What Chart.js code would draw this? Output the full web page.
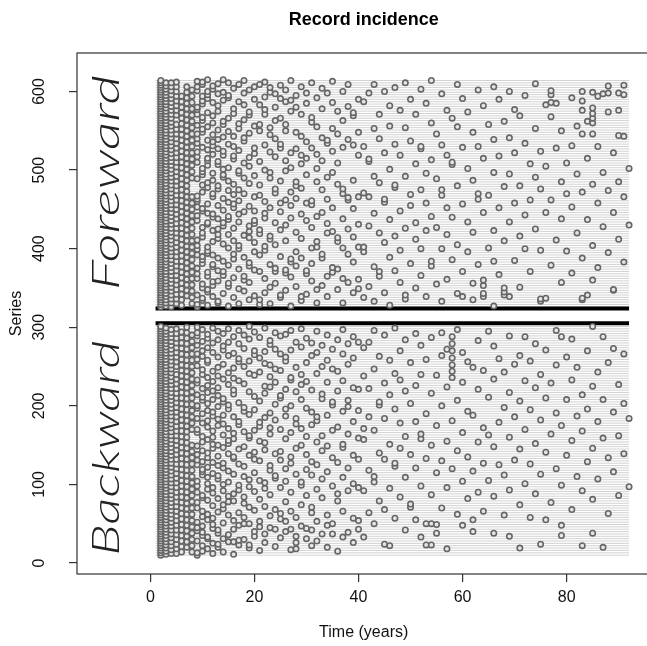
<!DOCTYPE html>
<html><head><meta charset="utf-8">
<script src="https://cdn.jsdelivr.net/npm/chart.js@4/dist/chart.umd.min.js"></script>
<style>html,body{margin:0;padding:0;overflow:hidden;background:#fff}</style>
</head><body>
<div style="width:656px;height:646px;position:relative"><canvas id="c"></canvas></div>
<script>
const chartTitle = 'Record incidence';
const xTitle = 'Time (years)';
const yTitle = 'Series';
const xTicks = [0, 20, 40, 60, 80];
const yTicks = [0, 100, 200, 300, 400, 500, 600];
const blockLabels = ['Foreward', 'Backward'];
const blockLabelPos = [[-8.4, 484], [-8.4, 146]];
const fwdRange = [326, 615];
const bwdRange = [10, 301];
const lineSpan = [1, 92];
const dividers = [305, 324];
// vertical chains of records in the first years: [year, fromSeries, toSeries, pitch between links]
const fwdRuns = [[2,326,615,3],[3,327,614,4],[4,326,612,5],[5,330,560,6],[5,570,612,6],[6,328,600,7],[7,340,612,7],[8,330,470,8],[8,490,605,8]];
const bwdRuns = [[2,10,301,3],[3,11,300,4],[4,12,300,5],[5,12,240,6],[5,250,298,6],[6,14,296,7],[7,20,300,7],[8,14,150,8],[8,170,290,8]];
// later records, year -> series with a record in that year
const fwdYears = {
 9:[326,329,341,362,368,375,392,399,404,411,436,442,453,460,463,467,489,510,517,523,534,540,546,557,571,577,580,601,606,613],
 10:[334,337,350,355,381,386,390,415,420,427,448,451,472,481,494,498,502,529,548,552,563,567,584,588,594,609,612],
 11:[328,345,348,365,370,394,397,402,431,433,445,457,478,484,506,512,515,526,538,555,573,591,596,600,615],
 12:[339,353,358,377,380,392,409,423,440,444,466,470,487,496,520,531,536,545,560,569,586,603,607],
 13:[331,333,359,372,388,413,418,425,438,455,476,480,507,511,527,539,551,575,582,597,610],
 14:[343,366,371,384,406,429,433,449,464,491,494,501,519,524,542,558,562,589,599,615],
 15:[327,352,356,379,401,418,437,441,459,474,486,503,533,549,566,592,595,611],
 16:[338,363,387,393,410,426,452,457,469,482,514,518,530,543,572,578,604],
 17:[330,349,374,400,404,434,444,461,475,496,499,525,553,559,587,609],
 18:[346,360,365,389,417,447,470,490,509,537,541,564,583,598,614],
 19:[335,357,378,382,414,422,429,454,483,505,516,547,570,574,602],
 20:[340,373,396,408,432,436,448,466,493,521,528,556,590,606],
 21:[329,335,371,392,419,424,468,481,511,550,558,583,609],
 22:[344,362,398,403,439,445,460,500,532,571,577,593,612],
 23:[330,351,380,412,416,452,490,497,523,545,554,599,605],
 24:[356,371,375,405,433,471,476,517,540,563,580,597],
 25:[338,341,390,424,447,458,486,528,533,566,591,608],
 26:[347,369,373,410,430,462,499,512,550,558,587,602],
 27:[327,364,383,387,439,455,472,503,522,575,589,614],
 28:[352,378,396,421,464,480,485,527,548,580,595],
 29:[334,339,388,413,444,477,508,519,543,571,606],
 30:[342,368,372,436,458,494,515,536,585,598],
 31:[359,381,401,427,456,461,528,561,567,611],
 32:[331,348,402,409,441,485,502,520,555,592],
 33:[353,388,393,446,475,512,541,578,604],
 34:[339,365,420,432,463,491,534,538,598],
 35:[370,376,422,452,497,524,553,586,613],
 36:[348,374,409,414,482,509,546,575],
 37:[331,362,401,438,470,476,529,563,600],
 38:[357,393,425,462,465,539,581,609],
 39:[344,383,415,451,487,532,569,573],
 40:[349,361,402,431,466,519,548,590],
 41:[338,396,402,471,530,587],
 42:[352,429,466,511,514,598],
 43:[333,377,445,492,553,609],
 44:[365,371,420,484,540,571],
 45:[344,408,459,463,522,600],
 46:[328,389,437,501,556,582],
 47:[372,416,478,481,533,605],
 48:[357,398,448,519,576],
 49:[336,341,426,492,554,611],
 50:[381,455,469,537,590],
 51:[350,412,433,508,571],
 52:[366,400,475,527,530,603],
 53:[339,423,458,496,585],
 54:[378,384,441,513,560,614],
 55:[355,427,489,546],
 56:[333,400,468,475,532,597],
 57:[361,418,452,519,576],
 58:[386,440,507,510,566],
 59:[343,405,480,555,609],
 60:[339,371,457,529,591],
 61:[396,434,502,574],
 62:[335,356,421,487,548],
 63:[380,463,470,530,602],
 64:[339,343,353,360,446,515,582],
 65:[401,468,558],
 66:[327,384,423,497,539,606],
 67:[367,452,518,590],
 68:[341,345,350,410,479,562],
 69:[339,434,495,541,600],
 70:[385,458,522,577],
 71:[351,416,480,569],
 72:[400,443,534,595],
 73:[371,462,508],
 74:[425,491,553,610],
 75:[333,336,398,476,524],
 76:[337,446,505,583],
 77:[379,462,568,586,596,601],
 78:[411,528,585],
 79:[357,438,485,550],
 80:[397,470,509],
 81:[369,453,531,592],
 82:[420,495,556],
 83:[335,337,388,472,546,576,588,600],
 84:[341,437,515,562],
 85:[360,404,482,546,560,566,572,579,599],
 86:[376,458,530,594],
 87:[428,497,597],
 88:[395,474,574,598,607],
 89:[347,348,446,522],
 90:[412,485,544,576,598],
 91:[383,466,543,596,608],
 92:[430,502]
};
const bwdYears = {
 9:[10,13,28,41,45,52,70,77,90,98,104,125,131,138,149,166,170,184,197,200,214,229,233,251,259,266,277,289,293,300],
 10:[15,22,35,39,47,59,66,83,86,112,116,119,129,143,154,161,178,190,207,211,222,240,246,263,270,282,297],
 11:[18,31,33,55,62,80,94,101,109,122,134,140,157,173,181,194,203,217,226,236,255,258,274,286,291],
 12:[12,25,44,49,57,73,89,96,114,128,146,151,160,168,187,192,208,219,231,244,268,280,299],
 13:[20,24,38,42,65,82,107,111,124,136,150,175,183,199,213,223,238,249,262,284,295],
 14:[14,31,51,69,74,92,100,121,127,147,163,177,188,205,209,234,253,271,276,292],
 15:[27,36,61,78,85,103,117,139,152,156,171,196,201,227,242,264,281,298],
 16:[11,27,43,54,79,88,113,133,135,158,165,186,215,220,235,248,267,288],
 17:[23,29,48,64,93,99,126,145,176,180,204,232,256,260,279,296],
 18:[30,50,58,76,84,110,123,148,167,193,198,228,250,273,290],
 19:[19,23,50,71,97,106,137,159,162,189,218,241,257,285,301],
 20:[34,40,67,91,115,132,141,169,195,212,239,265,270,294],
 21:[16,46,53,81,105,130,155,174,179,206,243,261,287],
 22:[26,37,72,95,102,144,153,185,216,225,254,269,299],
 23:[45,60,87,118,124,164,172,191,224,237,252,278,283],
 24:[21,43,68,108,111,139,182,202,230,247,272,293],
 25:[32,56,63,96,131,142,170,210,213,245,266,289],
 26:[40,53,78,104,120,158,187,196,221,257,262,291],
 27:[17,43,66,90,127,135,166,200,233,236,271,296],
 28:[18,26,34,58,113,146,177,184,218,249,281],
 29:[47,74,99,103,150,171,208,227,240,275,298],
 30:[31,44,86,119,138,161,197,231,255,286],
 31:[22,42,64,71,112,129,176,192,220,264,280],
 32:[28,53,94,125,154,181,186,241,268,295],
 33:[37,83,107,143,162,209,215,250,277],
 34:[20,48,61,116,149,188,230,258,290],
 35:[37,50,98,134,169,201,205,247,272],
 36:[15,79,88,128,173,219,244,284],
 37:[33,66,109,147,151,193,232,266,297],
 38:[39,92,121,164,199,207,253,279],
 39:[26,57,101,137,180,223,261,288],
 40:[43,54,96,132,159,194,221,281],
 41:[33,92,157,171,238,274],
 42:[64,118,186,222,281],
 43:[50,103,110,169,247,296],
 44:[79,140,201,205,263],
 45:[24,68,132,184,229,290],
 46:[22,95,151,214,258],
 47:[57,123,127,196,241,299],
 48:[84,146,178,233,270],
 49:[42,109,161,219,284],
 50:[71,75,138,203,255],
 51:[55,121,180,226,292],
 52:[33,98,158,164,240,277],
 53:[23,50,133,190,259],
 54:[23,50,87,150,216,287],
 55:[38,49,115,175,239],
 56:[70,130,200,264,293],
 57:[18,96,155,224,272],
 58:[120,181,236,244,252,261,270,279,288],
 59:[62,143,207,297],
 60:[48,104,166,230,268],
 61:[82,135,193,256],
 62:[40,55,117,188,249],
 63:[90,154,221,283],
 64:[66,127,172,245],
 65:[105,163,211,295],
 66:[38,85,148,234,276],
 67:[125,179,260],
 68:[61,112,198,243],
 69:[34,93,160,217,289],
 70:[131,186,253],
 71:[19,74,145,206,264],
 72:[101,170,232,288],
 73:[58,126,195,257],
 74:[88,152,223,279],
 75:[24,113,182,240],
 76:[55,141,210,271],
 77:[77,164,229],
 78:[120,191,252,296],
 79:[35,48,99,175,288],
 80:[137,208,262],
 81:[68,156,233,285],
 82:[110,187,249],
 83:[22,92,168,214],
 84:[129,196,270],
 85:[38,81,146,225,301],
 86:[107,180,243],
 87:[20,159,208,288],
 88:[63,134,255],
 89:[116,192,273],
 90:[86,162,227],
 91:[139,203,266],
 92:[97,184]
};

function expand(runs, years) {
  const out = [];
  runs.forEach(([t, a, b, p]) => { for (let s = a; s <= b; s += p) out.push({x: t, y: s}); });
  Object.keys(years).forEach(k => years[k].forEach(s => out.push({x: +k, y: s})));
  return out;
}
function rowLines(r) {
  const out = [];
  for (let s = r[0]; s <= r[1]; s += 3) {
    out.push({x: lineSpan[0], y: s}, {x: lineSpan[1], y: s}, {x: null, y: null});
  }
  return out;
}
const dividerData = [];
dividers.forEach(d => dividerData.push({x: lineSpan[0], y: d}, {x: lineSpan[1], y: d}, {x: null, y: null}));

const FONT = "'Liberation Sans', Arial, Helvetica, sans-serif";

const decor = {
  id: 'decor',
  afterDraw(chart) {
    const {ctx, chartArea: ca, scales} = chart;
    ctx.save();
    ctx.strokeStyle = '#333';
    ctx.lineWidth = 1.2;
    ctx.strokeRect(ca.left, ca.top, ca.right - ca.left, ca.bottom - ca.top);
    ctx.fillStyle = '#111';
    ctx.font = '16px ' + FONT;
    ctx.textAlign = 'center';
    ctx.textBaseline = 'middle';
    yTicks.forEach(v => {
      const y = scales.y.getPixelForValue(v);
      ctx.save(); ctx.translate(40, y); ctx.rotate(-Math.PI / 2);
      ctx.fillText(String(v), 0, 0); ctx.restore();
    });
    ctx.font = 'italic 300 38px Lato, ' + FONT;
    ctx.fillStyle = '#222';
    blockLabels.forEach((txt, i) => {
      const x = scales.x.getPixelForValue(blockLabelPos[i][0]);
      const y = scales.y.getPixelForValue(blockLabelPos[i][1]);
      const w = ctx.measureText(txt).width;
      ctx.save(); ctx.translate(x, y); ctx.rotate(-Math.PI / 2);
      ctx.scale(215 / w, 1);
      ctx.fillText(txt, 0, 0); ctx.restore();
    });
    ctx.restore();
  }
};

new Chart(document.getElementById('c'), {
  type: 'scatter',
  data: {
    datasets: [
      {type: 'line', data: rowLines(fwdRange).concat(rowLines(bwdRange)), borderColor: '#cdcdcd', borderWidth: 0.9, pointRadius: 0, spanGaps: false, order: 3},
      {type: 'line', data: dividerData, borderColor: '#000', borderWidth: 4, pointRadius: 0, spanGaps: false, order: 2},
      {data: expand(fwdRuns, fwdYears).concat(expand(bwdRuns, bwdYears)), pointRadius: 2.7, borderWidth: 1.6, borderColor: '#666', backgroundColor: '#e6e6e6', order: 1}
    ]
  },
  options: {
    responsive: true, maintainAspectRatio: false, animation: false,
    layout: {padding: {left: 0, right: 5, top: 0, bottom: 0}},
    plugins: {
      legend: {display: false}, tooltip: {enabled: false},
      title: {display: true, text: chartTitle, fullSize: false, color: '#000',
        font: {family: FONT, size: 18, weight: 'bold', lineHeight: 1.2}, padding: {top: 9, bottom: 22.4}}
    },
    scales: {
      x: {type: 'linear', min: -14.1, max: 96.1,
        afterBuildTicks: s => { s.ticks = xTicks.map(v => ({value: v})); },
        afterFit: s => { s.height = 72; },
        border: {display: false},
        grid: {drawOnChartArea: false, drawTicks: true, tickLength: 8, color: '#333', lineWidth: 1.2},
        ticks: {color: '#111', font: {family: FONT, size: 16}, padding: 6, maxRotation: 0},
        title: {display: true, text: xTitle, color: '#111', font: {family: FONT, size: 16}, padding: {top: 4}}
      },
      y: {type: 'linear', min: -14, max: 649,
        afterBuildTicks: s => { s.ticks = yTicks.map(v => ({value: v})); },
        afterFit: s => { s.width = 77; },
        border: {display: false},
        grid: {drawOnChartArea: false, drawTicks: true, tickLength: 8, color: '#333', lineWidth: 1.2},
        ticks: {display: false},
        title: {display: true, text: yTitle, color: '#111', font: {family: FONT, size: 16}, padding: {top: 7, bottom: 0}}
      }
    }
  },
  plugins: [decor]
});
</script>
</body></html>
